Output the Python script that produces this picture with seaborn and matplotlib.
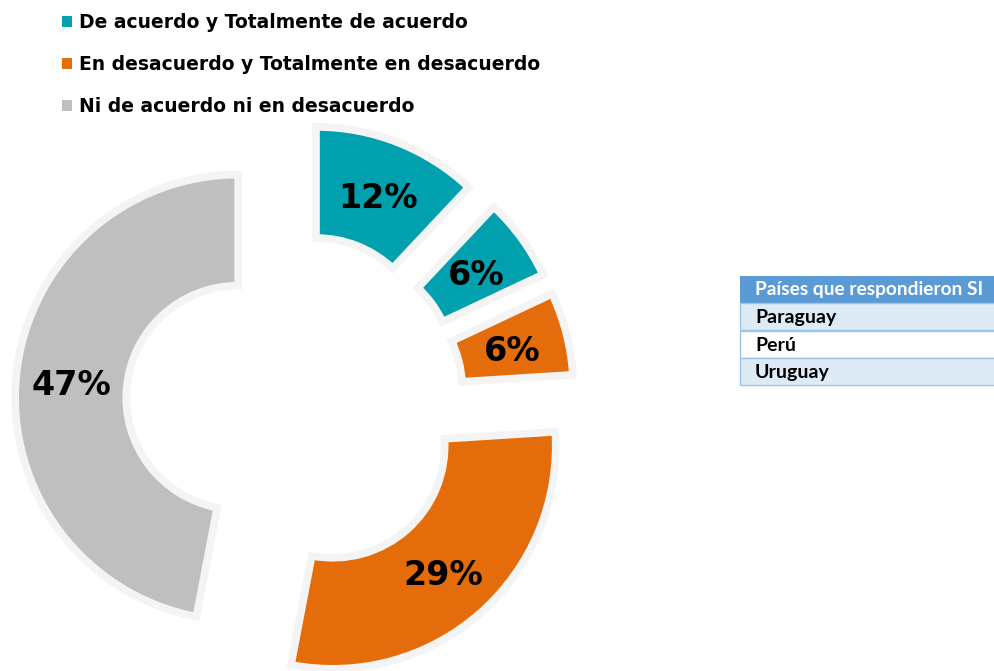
import matplotlib
matplotlib.use("Agg")
import matplotlib.pyplot as plt
import matplotlib.patheffects as pe
from matplotlib.patches import Patch, Rectangle
import seaborn as sns

# Response shares, clockwise from 12 o'clock
slice_groups = ["acuerdo", "acuerdo", "desacuerdo", "desacuerdo", "neutral"]
slice_values = [12, 6, 6, 29, 47]

legend_labels = [
    "De acuerdo y Totalmente de acuerdo",
    "En desacuerdo y Totalmente en desacuerdo",
    "Ni de acuerdo ni en desacuerdo",
]
group_keys = ["acuerdo", "desacuerdo", "neutral"]
group_colors = ["#00A0AF", "#E46C0A", "#BFBFBF"]

table_header = "Países que respondieron SI"
table_rows = ["Paraguay", "Perú", "Uruguay"]

sns.set_theme(style="white")
plt.rcParams["font.family"] = ["DejaVu Sans"]

W, H, DPI = 994, 671, 100
fig = plt.figure(figsize=(W / DPI, H / DPI), dpi=DPI)
fig.patch.set_facecolor("white")

# Axes covering the whole figure, 1 data unit = R pixels
R = 223.0
cx, cy = 295.0, H - 403.0
ax = fig.add_axes([0, 0, 1, 1])
ax.set_aspect("equal")
ax.axis("off")

color_map = dict(zip(group_keys, group_colors))
colors = [color_map[g] for g in slice_groups]

wedges, _, autotexts = ax.pie(
    slice_values,
    colors=colors,
    startangle=90,
    counterclock=False,
    explode=[0.256] * len(slice_values),
    radius=1.0,
    pctdistance=0.75,
    autopct=lambda p: f"{p:.0f}%",
    wedgeprops=dict(width=0.498, edgecolor="#F4F4F4", linewidth=5.5),
    textprops=dict(fontsize=24, fontweight="bold", color="black"),
)
for w in wedges:
    w.set_path_effects([
        pe.SimplePatchShadow(offset=(1.5, -2), shadow_rgbFace="#999999", alpha=0.3),
        pe.Normal(),
    ])
for t in autotexts:
    x, y = t.get_position()
    t.set_position((x, y - 4 / R))
ax.set_xlim(-cx / R, (W - cx) / R)
ax.set_ylim(-cy / R, (H - cy) / R)

# Legend
handles = [Patch(facecolor=c, edgecolor="none") for c in group_colors]
leg = fig.legend(
    handles, legend_labels,
    loc="upper left", bbox_to_anchor=(62 / W, 1 - 13 / H),
    frameon=False, borderpad=0, borderaxespad=0,
    handlelength=0.54, handleheight=0.54, handletextpad=0.38,
    labelspacing=1.22,
    prop=dict(family="DejaVu Sans", weight="bold", size=13.5),
)
for t in leg.get_texts():
    t.set_color("black")

# Country table (runs off the right edge)
def px_rect(x0, y0, x1, y1, fc, ec="none", lw=0):
    fig.patches.append(Rectangle((x0 / W, 1 - y1 / H), (x1 - x0) / W, (y1 - y0) / H,
                                 transform=fig.transFigure, facecolor=fc,
                                 edgecolor=ec, linewidth=lw, zorder=5))

tx0, tx1 = 740, 1000
px_rect(tx0, 276, tx1, 303, "#5B9BD5")
row_tops = [303, 331, 358]
row_h = 27
row_colors = ["#DDEBF7", "#FFFFFF", "#DDEBF7"]
for top, fc, name in zip(row_tops, row_colors, table_rows):
    px_rect(tx0, top, tx1, top + row_h, fc, ec="#9DC3E6", lw=1.0)
    fig.text((tx0 + 15) / W, 1 - (top + row_h / 2 + 1) / H, name, ha="left", va="center",
             fontsize=14, fontweight="bold", family="Lato", color="black", zorder=6)
fig.text((tx0 + 15) / W, 1 - 290 / H, table_header, ha="left", va="center",
         fontsize=13.8, fontweight="bold", family="Lato", color="white", zorder=6)

fig.savefig("out.png", dpi=DPI, facecolor="white")
